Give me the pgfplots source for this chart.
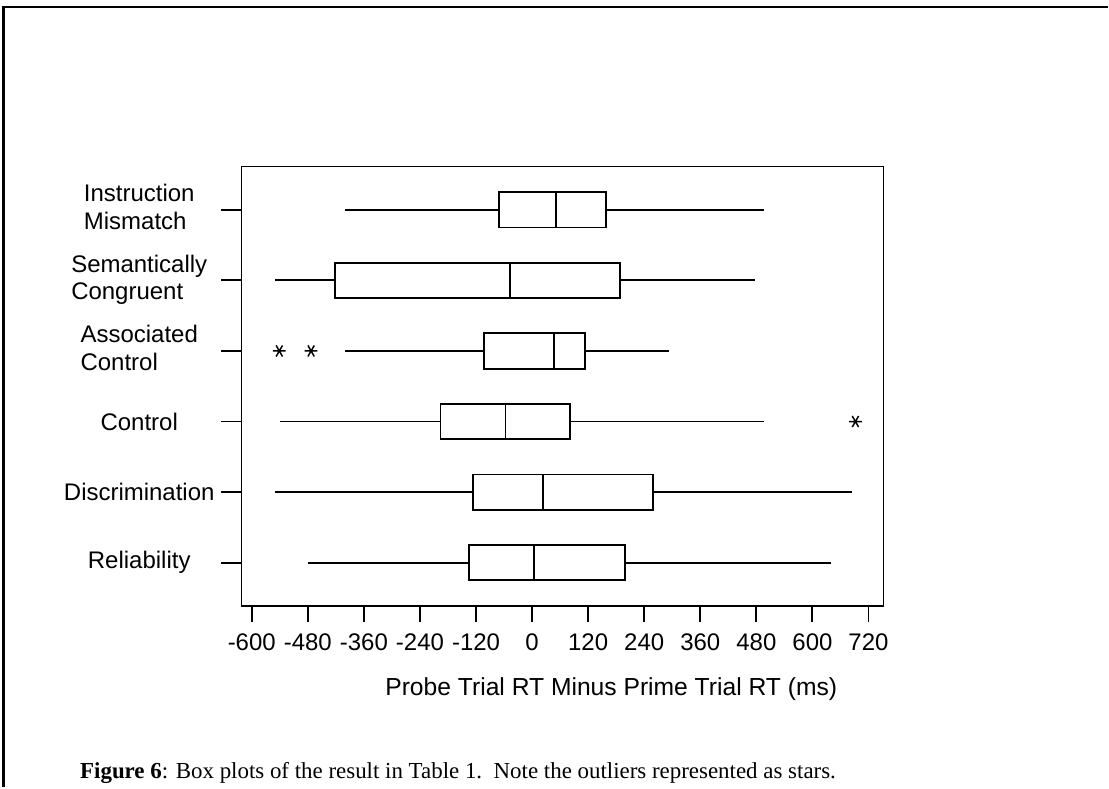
\documentclass[border=0pt]{standalone}
\usepackage{fontspec}
\setmainfont{Liberation Serif}
\newfontfamily\arial{Liberation Sans}
\usepackage{pgfplots}
\pgfplotsset{compat=1.18}
\usepgfplotslibrary{statistics}

\begin{document}
\begin{tikzpicture}
% page area and the frame round the figure
\path (0,0) rectangle (831.75pt,591pt);
\draw[line width=1.8pt] (2.6pt,0) -- (2.6pt,585.75pt) -- (831.75pt,585.75pt);

\begin{axis}[
  at={(181.3pt,136pt)}, anchor=south west,
  scale only axis, width=482pt, height=330pt,
  xmin=-622, xmax=752, ymin=0.386, ymax=6.614,
  axis line style={line width=1.4pt},
  tick align=outside, tick style={black, line width=1.4pt},
  xtick={-600,-480,...,720},
  xtick pos=bottom, ytick pos=left,
  xtick style={/pgfplots/major tick length=12pt},
  ytick style={/pgfplots/major tick length=15pt},
  ytick={1,2,3,4,5,6},
  yticklabels={
    Reliability,
    Discrimination,
    Control,
    {\begin{tabular}{@{}l@{}}Associated\\Control\end{tabular}},
    {\begin{tabular}{@{}l@{}}Semantically\\Congruent\end{tabular}},
    {\begin{tabular}{@{}l@{}}Instruction\\Mismatch\end{tabular}}},
  ticklabel style={font=\arial\fontsize{18}{20.7}\selectfont},
  /pgf/number format/assume math mode=true,
  yticklabel style={anchor=center, xshift=-72.5pt},
  xticklabel style={yshift=-13pt},
  xlabel={Probe Trial RT Minus Prime Trial RT (ms)},
  xlabel style={font=\arial\fontsize{18.5}{22}\selectfont,
    at={(axis description cs:0.576,-0.189)}, anchor=center},
  boxplot/draw direction=x,
  boxplot/box extend=0.5,
  boxplot/whisker extend=0,
  every axis plot/.append style={black, line width=1.4pt},
]
% Reliability
\addplot[boxplot prepared={draw position=1,
  lower whisker=-480, lower quartile=-135, median=4,
  upper quartile=198, upper whisker=640}] coordinates {};
% Discrimination
\addplot[boxplot prepared={draw position=2,
  lower whisker=-551, lower quartile=-126, median=23,
  upper quartile=259, upper whisker=685}] coordinates {};
% Control
\addplot[mark=asterisk, mark size=4.8pt,
  mark options={rotate=90, line width=1.1pt},
  boxplot prepared={draw position=3,
  lower whisker=-539, lower quartile=-196, median=-57,
  upper quartile=82, upper whisker=497}] coordinates {(0,692)};
% Associated Control
\addplot[mark=asterisk, mark size=4.8pt,
  mark options={rotate=90, line width=1.1pt},
  boxplot prepared={draw position=4,
  lower whisker=-400, lower quartile=-103, median=46,
  upper quartile=114, upper whisker=292}] coordinates {(0,-541) (0,-473)};
% Semantically Congruent
\addplot[boxplot prepared={draw position=5,
  lower whisker=-551, lower quartile=-422, median=-48,
  upper quartile=189, upper whisker=477}] coordinates {};
% Instruction Mismatch
\addplot[boxplot prepared={draw position=6,
  lower whisker=-400, lower quartile=-70, median=52,
  upper quartile=159, upper whisker=497}] coordinates {};
\end{axis}

\node[anchor=base west, inner sep=0pt] at (60pt,6.75pt)
  {\fontsize{17.2}{20}\selectfont\textbf{Figure 6}: Box plots of the result in Table 1.\ \ Note the outliers represented as stars.};
\end{tikzpicture}
\end{document}
